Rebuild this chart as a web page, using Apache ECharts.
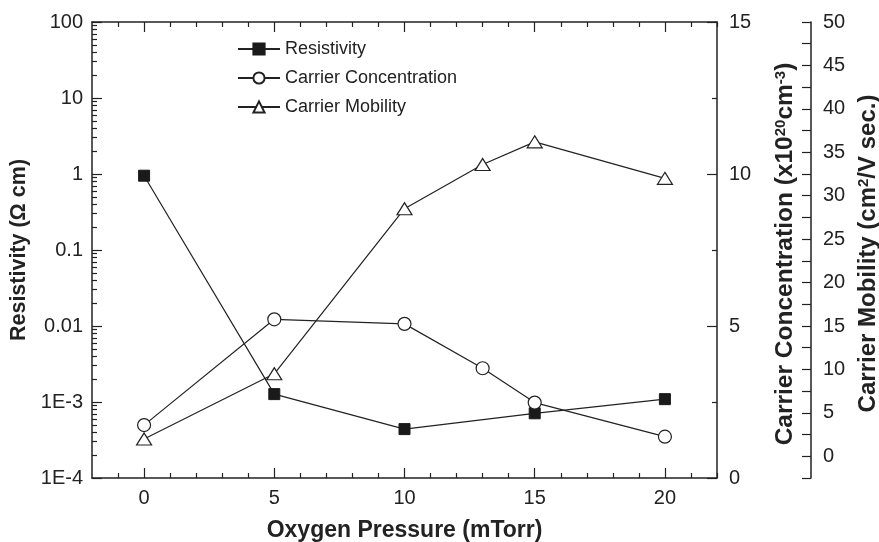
<!DOCTYPE html>
<html>
<head>
<meta charset="utf-8">
<script src="https://cdn.jsdelivr.net/npm/echarts@6/dist/echarts.min.js"></script>
<style>
html,body{margin:0;padding:0;background:#fff;}
#chart{width:879px;height:542px;}
</style>
</head>
<body>
<div id="chart"></div>
<script>
// ---- data ----
var resPressure = [0, 5, 10, 15, 20];
var resistivity = [0.95, 1.27e-3, 4.4e-4, 7.1e-4, 1.09e-3];
var carPressure = [0, 5, 10, 13, 15, 20];
var concentration = [1.74, 5.22, 5.07, 3.61, 2.48, 1.36];
var mobility = [2.0, 9.5, 28.5, 33.6, 36.2, 32.0];
var xLabels = [0, 5, 10, 15, 20];
var logLabels = ['1E-4', '1E-3', '0.01', '0.1', '1', '10', '100'];
var seriesNames = ['Resistivity', 'Carrier Concentration', 'Carrier Mobility'];

// ---- helpers ----
function pairs(xs, ys) { return xs.map(function (x, i) { return [x, ys[i]]; }); }
var decades = [1e-4, 1e-3, 1e-2, 1e-1, 1, 10, 100];
var logMinor = [];
for (var d = 0; d < decades.length - 1; d++) {
  for (var m = 2; m <= 9; m++) logMinor.push(decades[d] * m);
}
var xMinor = [];
for (var xv = -1; xv <= 22; xv++) if (xv % 5 !== 0) xMinor.push(xv);

var INK = '#222';
var FONT = '"Liberation Sans", Arial, sans-serif';
var tickLabel = { color: INK, fontSize: 20, fontFamily: FONT };
function richTitle(size, supSize) {
  return {
    b: { fontSize: size, fontWeight: 'bold', fontFamily: FONT, color: INK },
    s: { fontSize: supSize, fontWeight: 'bold', fontFamily: FONT, color: INK, verticalAlign: 'top' }
  };
}

var chart = echarts.init(document.getElementById('chart'), null, { renderer: 'canvas' });
chart.setOption({
  animation: false,
  backgroundColor: '#fff',
  grid: { left: 92, right: 162, top: 22, bottom: 64, containLabel: false, outerBoundsMode: 'none' },
  legend: {
    orient: 'vertical', left: 232, top: 35,
    itemWidth: 42, itemHeight: 14, itemGap: 11,
    data: seriesNames,
    textStyle: { color: INK, fontSize: 18, fontFamily: FONT }
  },
  xAxis: [
    {
      type: 'value', position: 'bottom', min: -2, max: 22, interval: 1,
      name: 'Oxygen Pressure (mTorr)', nameLocation: 'middle', nameGap: 41,
      nameTextStyle: { fontSize: 23, fontWeight: 'bold', fontFamily: FONT, color: INK },
      axisLine: { show: true, onZero: false, lineStyle: { color: INK, width: 1.5 } },
      axisTick: { show: true, inside: true, customValues: xMinor, length: 5, lineStyle: { color: INK, width: 1.2 } },
      axisLabel: Object.assign({ customValues: xLabels, margin: 10 }, tickLabel),
      splitLine: { show: false }
    },
    {
      type: 'value', position: 'bottom', min: -2, max: 22,
      axisLine: { show: false, onZero: false },
      axisTick: { show: true, inside: true, customValues: xLabels, length: 10, lineStyle: { color: INK, width: 1.2 } },
      axisLabel: { show: false },
      splitLine: { show: false }
    },
    {
      type: 'value', position: 'top', min: -2, max: 22,
      axisLine: { show: true, onZero: false, lineStyle: { color: INK, width: 1.5 } },
      axisTick: { show: true, inside: true, customValues: xMinor, length: 5, lineStyle: { color: INK, width: 1.2 } },
      axisLabel: { show: false },
      splitLine: { show: false }
    },
    {
      type: 'value', position: 'top', min: -2, max: 22,
      axisLine: { show: false, onZero: false },
      axisTick: { show: true, inside: true, customValues: xLabels, length: 10, lineStyle: { color: INK, width: 1.2 } },
      axisLabel: { show: false },
      splitLine: { show: false }
    }
  ],
  yAxis: [
    {
      type: 'log', logBase: 10, position: 'left', min: 1e-4, max: 100,
      name: 'Resistivity (Ω cm)', nameLocation: 'middle', nameGap: 57, nameRotate: 90,
      nameTextStyle: { fontSize: 21.5, fontWeight: 'bold', fontFamily: FONT, color: INK },
      axisLine: { show: true, onZero: false, lineStyle: { color: INK, width: 1.5 } },
      axisTick: { show: true, inside: true, customValues: decades, length: 10, lineStyle: { color: INK, width: 1.2 } },
      axisLabel: Object.assign({
        customValues: decades, margin: 9,
        formatter: function (v) { return logLabels[Math.round(Math.log10(v)) + 4]; }
      }, tickLabel),
      splitLine: { show: false }
    },
    {
      type: 'value', position: 'right', offset: 0, min: 0, max: 15, interval: 5,
      name: '{b|Carrier Concentration (x10}{s|20}{b|cm}{s|-3}{b|)}',
      nameLocation: 'middle', nameGap: 56, nameRotate: 90,
      nameTextStyle: { rich: richTitle(24.5, 15), padding: [0, 8, 0, 0] },
      axisLine: { show: true, onZero: false, lineStyle: { color: INK, width: 1.5 } },
      axisTick: { show: true, inside: true, length: 10, lineStyle: { color: INK, width: 1.2 } },
      minorTick: { show: true, splitNumber: 2, length: 5, lineStyle: { color: INK, width: 1.2 } },
      axisLabel: Object.assign({ margin: 12 }, tickLabel),
      splitLine: { show: false }
    },
    {
      type: 'value', position: 'right', offset: 94, min: -2.5, max: 50, interval: 2.5,
      name: '{b|Carrier Mobility (cm}{s|2}{b|/V sec.)}',
      nameLocation: 'middle', nameGap: 39, nameRotate: 90,
      nameTextStyle: { rich: richTitle(24, 15), padding: [0, 7, 0, 0] },
      axisLine: { show: true, onZero: false, lineStyle: { color: INK, width: 1.5 } },
      axisTick: { show: true, inside: true, length: 9, lineStyle: { color: INK, width: 1.2 } },
      axisLabel: Object.assign({
        margin: 12,
        formatter: function (v) { return (Math.abs(v % 5) < 1e-9 && v >= 0) ? String(v) : ''; }
      }, tickLabel),
      splitLine: { show: false }
    },
    {
      type: 'log', logBase: 10, position: 'left', min: 1e-4, max: 100,
      axisLine: { show: false, onZero: false },
      axisTick: { show: true, inside: true, customValues: logMinor, length: 5, lineStyle: { color: INK, width: 1.2 } },
      axisLabel: { show: false },
      splitLine: { show: false }
    }
  ],
  series: [
    {
      name: seriesNames[0], type: 'line', xAxisIndex: 0, yAxisIndex: 0,
      data: pairs(resPressure, resistivity),
      symbol: 'rect', symbolSize: 11,
      itemStyle: { color: '#1a1a1a', borderColor: '#1a1a1a', borderWidth: 1 },
      lineStyle: { color: INK, width: 1.2 }, z: 3
    },
    {
      name: seriesNames[1], type: 'line', xAxisIndex: 0, yAxisIndex: 1,
      data: pairs(carPressure, concentration),
      symbol: 'circle', symbolSize: 13, showAllSymbol: true,
      itemStyle: { color: '#fff', borderColor: INK, borderWidth: 1.2 },
      lineStyle: { color: INK, width: 1.2 }, z: 4
    },
    {
      name: seriesNames[2], type: 'line', xAxisIndex: 0, yAxisIndex: 2,
      data: pairs(carPressure, mobility),
      symbol: 'triangle', symbolSize: [15, 12], showAllSymbol: true,
      itemStyle: { color: '#fff', borderColor: INK, borderWidth: 1.2 },
      lineStyle: { color: INK, width: 1.2 }, z: 5
    }
  ]
});
</script>
</body>
</html>
